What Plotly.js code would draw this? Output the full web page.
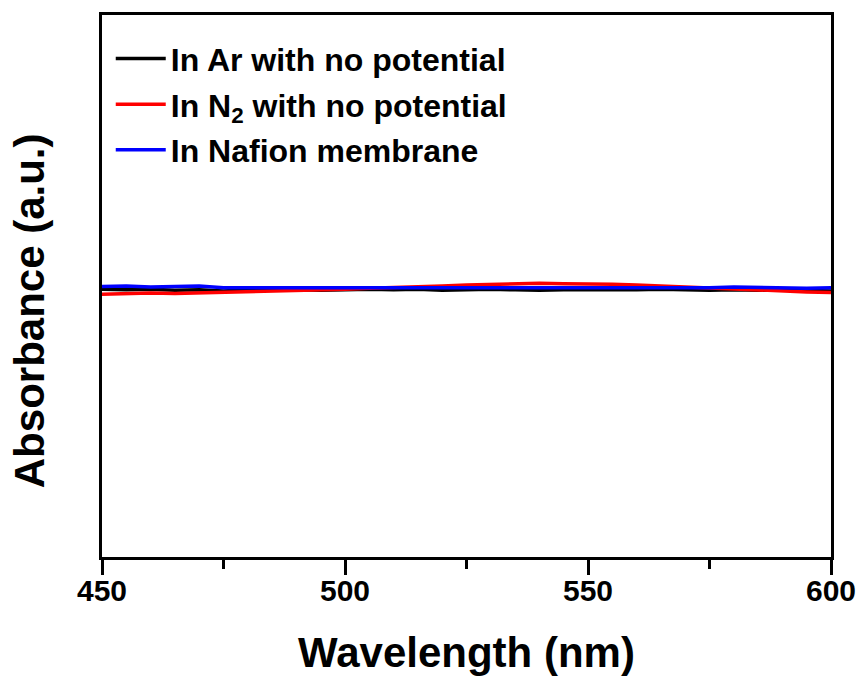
<!DOCTYPE html>
<html>
<head>
<meta charset="utf-8">
<script src="https://cdn.plot.ly/plotly-3.0.1.min.js"></script>
<style>html,body{margin:0;padding:0;background:#fff;}#chart{width:861px;height:680px;}</style>
</head>
<body>
<div id="chart"></div>
<script>
const wavelength = [450,455,460,465,470,475,480,485,490,495,500,505,510,515,520,525,530,535,540,545,550,555,560,565,570,575,580,585,590,595,600];
const arNoPotential = [0.494,0.493,0.494,0.492,0.493,0.491,0.493,0.492,0.493,0.492,0.493,0.494,0.493,0.494,0.492,0.493,0.494,0.493,0.492,0.493,0.493,0.492,0.493,0.494,0.493,0.492,0.493,0.492,0.493,0.492,0.491];
const n2NoPotential = [0.485,0.486,0.487,0.486,0.487,0.488,0.490,0.491,0.492,0.493,0.494,0.496,0.497,0.499,0.500,0.502,0.503,0.504,0.505,0.504,0.504,0.503,0.502,0.500,0.498,0.496,0.494,0.493,0.491,0.489,0.488];
const nafionMembrane = [0.499,0.500,0.498,0.499,0.500,0.497,0.497,0.496,0.497,0.496,0.497,0.496,0.497,0.496,0.497,0.496,0.496,0.497,0.496,0.497,0.496,0.497,0.497,0.496,0.497,0.497,0.498,0.497,0.497,0.496,0.497];
const seriesNames = ["In Ar with no potential", "In N<sub>2</sub> with no potential", "In Nafion membrane"];
const seriesColors = ["#000000", "#ff0000", "#0000ff"];
const xTicks = [450, 500, 550, 600];
const yTitle = "Absorbance (a.u.)";
const xTitle = "Wavelength (nm)";

const F = "Arial, 'Liberation Sans', sans-serif";
const ys = [arNoPotential, n2NoPotential, nafionMembrane];
const data = ys.map((y, i) => ({
  x: wavelength, y: y, type: 'scatter', mode: 'lines',
  name: seriesNames[i], legendgroup: 'g' + i,
  line: {color: seriesColors[i], width: 3.5}
}));

const layout = {
  width: 861, height: 680,
  margin: {l: 102, r: 30, t: 15, b: 123},
  paper_bgcolor: '#fff', plot_bgcolor: '#fff',
  showlegend: true,
  legend: {x: 0.012, y: 0.97, xanchor: 'left', yanchor: 'top', bgcolor: 'rgba(0,0,0,0)',
    itemwidth: 50,
    font: {family: F, size: 32, color: '#000', weight: 'bold'}, tracegroupgap: 1},
  xaxis: {
    range: [450, 600], tickvals: xTicks, ticktext: xTicks.map(String),
    showgrid: false, zeroline: false, showline: true, linecolor: '#000', linewidth: 3, mirror: true,
    ticks: 'outside', ticklen: 15, tickwidth: 3, tickcolor: '#000', ticklabelstandoff: -10,
    minor: {dtick: 25, tick0: 450, ticks: 'outside', ticklen: 9, tickwidth: 3, tickcolor: '#000'},
    tickfont: {family: F, size: 30, color: '#000', weight: 'bold'},
    title: {text: xTitle, font: {family: F, size: 42, color: '#000', weight: 'bold'}, standoff: 32}
  },
  yaxis: {
    range: [0, 1], showticklabels: false, ticks: '',
    showgrid: false, zeroline: false, showline: true, linecolor: '#000', linewidth: 3, mirror: true
  },
  annotations: [{
    text: yTitle, textangle: -90, xref: 'paper', yref: 'paper', x: -0.099, y: 0.455,
    xanchor: 'center', yanchor: 'middle', showarrow: false,
    font: {family: F, size: 42, color: '#000', weight: 'bold'}
  }]
};
Plotly.newPlot('chart', data, layout, {displayModeBar: false, staticPlot: true});
</script>
</body>
</html>
